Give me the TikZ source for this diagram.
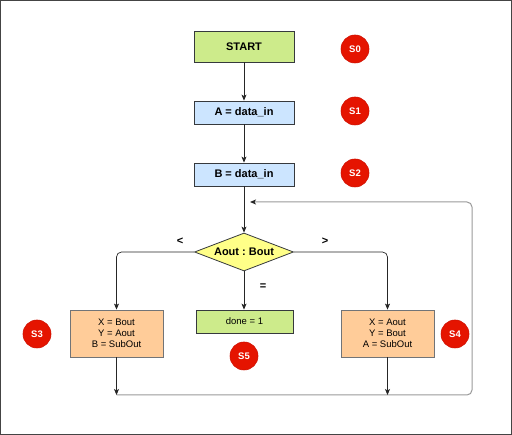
\documentclass[tikz,border=0pt]{standalone}
\usepackage{fontspec}
\setmainfont{Liberation Sans}
\usetikzlibrary{arrows.meta,shapes.geometric}
\definecolor{strk}{HTML}{36393D}
\definecolor{greenf}{HTML}{CDEB8B}
\definecolor{bluef}{HTML}{CCE5FF}
\definecolor{yellowf}{HTML}{FFFF88}
\definecolor{orangef}{HTML}{FFCC99}
\definecolor{redf}{HTML}{E51400}
\definecolor{redd}{HTML}{D01000}
\definecolor{loopc}{HTML}{999999}
\definecolor{framec}{HTML}{444444}
\frenchspacing
\begin{document}
\begin{tikzpicture}[x=1pt,y=-1pt,
  box/.style={draw=strk,line width=0.8pt,minimum width=100pt,minimum height=23pt,inner sep=0pt,font=\fontsize{11}{13}\selectfont\bfseries,align=center},
  obox/.style={draw=strk!70,line width=0.8pt,fill=orangef,minimum width=93pt,minimum height=47pt,inner sep=0pt,font=\fontsize{9.5}{11.2}\selectfont,align=center},
  badge/.style={circle,fill=redf,draw=redd,line width=0.6pt,minimum size=28pt,inner sep=0pt,text=white,font=\fontsize{9.5}{10}\selectfont\bfseries},
  conn/.style={draw=black!85,line width=0.7pt,-{Stealth[length=6pt,width=5pt,inset=1.5pt]},rounded corners=5pt},
  loopl/.style={draw=loopc,line width=1pt,rounded corners=5pt,-{Stealth[length=6pt,width=5pt,inset=1.5pt,color=black!85]}},
  lbl/.style={font=\fontsize{11}{13}\selectfont\bfseries,inner sep=0pt}]
\useasboundingbox (0,0) rectangle (512,435);
\draw[framec,line width=1pt] (0.5,0.5) rectangle (511.5,434.5);
% nodes
\node[box,fill=greenf,minimum height=31pt] (start) at (244,46.5) {START};
\node[box,fill=bluef] (a) at (244,112.5) {A = data\_in};
\node[box,fill=bluef] (b) at (244,174.5) {B = data\_in};
\node[diamond,draw=strk,line width=0.8pt,fill=yellowf,minimum width=99pt,minimum height=38pt,aspect=2.6,inner sep=0pt,font=\fontsize{11}{13}\selectfont\bfseries] (d) at (244,252) {Aout : Bout};
\node[obox] (s3b) at (116.5,333.5) {X = Bout\\Y = Aout\\B = SubOut};
\node[box,fill=greenf,minimum width=97pt,font=\fontsize{9.5}{11}\selectfont] (done) at (244.5,321.5) {done = 1};
\node[obox] (s4b) at (387.5,333.5) {X = Aout\\Y = Bout\\A = SubOut};
% badges
\node[badge] (c0) at (355,49) {S0};
\node[badge] (c1) at (355,111) {S1};
\node[badge] (c2) at (355,173) {S2};
\node[badge] (c3) at (37,334) {S3};
\node[badge] (c4) at (455,334) {S4};
\node[badge] (c5) at (244,356) {S5};
% labels
\node[lbl] (lt) at (180,241) {<};
\node[lbl] (gt) at (325,241) {>};
\node[lbl] (eq) at (263,287) {=};
% coordinates
\coordinate (j3) at (116.5,395);
\coordinate (j4) at (387.5,395);
\coordinate (rb) at (472,395);
\coordinate (rt) at (472,202);
\coordinate (lp) at (250,202);
% connectors
\draw[conn] (start) -- (a);
\draw[conn] (a) -- (b);
\draw[conn] (b) -- (d);
\draw[conn] (d.west) -| (s3b.north);
\draw[conn] (d.east) -| (s4b.north);
\draw[conn] (d.south) -- (done.north -| d.south);
\draw[loopl] (j3) -- (rb) -- (rt) -- (lp);
\draw[conn] (s3b) -- (j3);
\draw[conn] (s4b) -- (j4);
\end{tikzpicture}
\end{document}
